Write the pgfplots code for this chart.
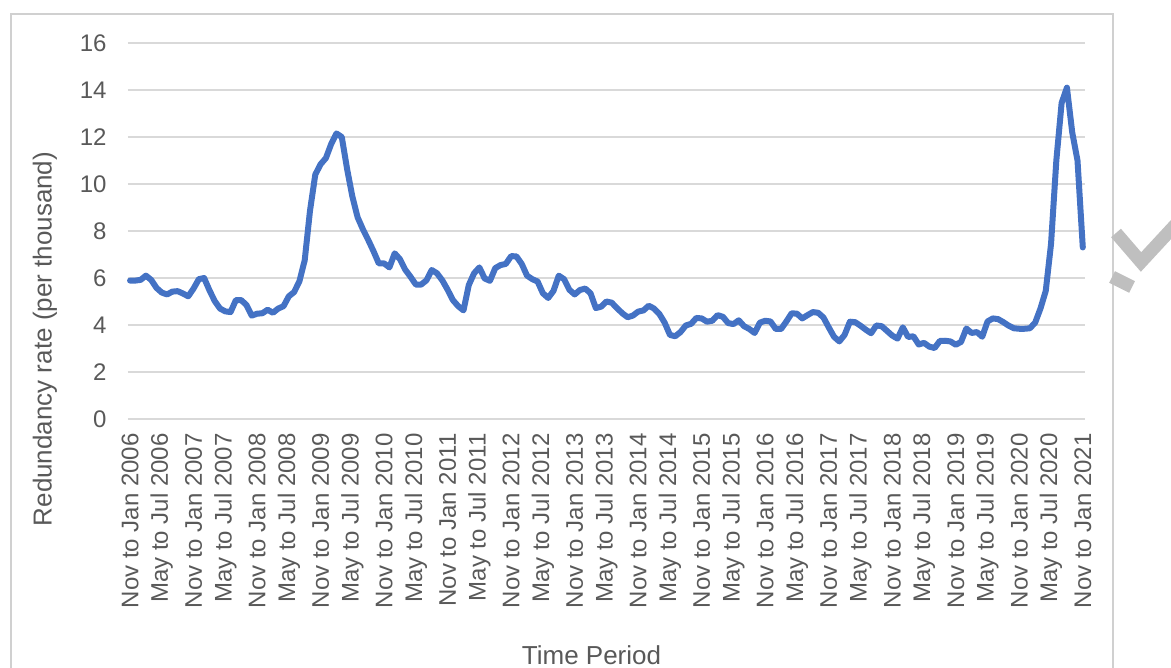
\documentclass[border=0pt]{standalone}
\usepackage{pgfplots}
\pgfplotsset{compat=1.18}
\usepackage{fontspec}
\setmainfont{Liberation Sans}
\definecolor{txt}{HTML}{595959}
\definecolor{gridc}{HTML}{D9D9D9}
\definecolor{linec}{HTML}{4472C4}
\definecolor{wm}{HTML}{BFBFBF}
\begin{document}
\begin{tikzpicture}[x=0.5pt,y=0.5pt]
\useasboundingbox (0,0) rectangle (1171,668);
\draw[gridc!90!gray, line width=1pt] (11,668-14) rectangle (1113,-40);
\draw[wm, line width=6.5pt, line join=miter] (1116,668-233) -- (1141,668-262) -- (1178,668-222);
\draw[wm, line width=6.5pt] (1112,668-277) -- (1132,668-287);
\begin{axis}[
  at={(63.95pt,124.5pt)}, anchor=south west,
  scale only axis, width=478.5pt, height=188pt,
  xmin=-0.4, xmax=180.4, ymin=0, ymax=16,
  ytick={0,2,...,16},
  xtick={0,6,...,180},
  xticklabels={Nov to Jan 2006,May to Jul 2006,Nov to Jan 2007,May to Jul 2007,Nov to Jan 2008,May to Jul 2008,Nov to Jan 2009,May to Jul 2009,Nov to Jan 2010,May to Jul 2010,Nov to Jan 2011,May to Jul 2011,Nov to Jan 2012,May to Jul 2012,Nov to Jan 2013,May to Jul 2013,Nov to Jan 2014,May to Jul 2014,Nov to Jan 2015,May to Jul 2015,Nov to Jan 2016,May to Jul 2016,Nov to Jan 2017,May to Jul 2017,Nov to Jan 2018,May to Jul 2018,Nov to Jan 2019,May to Jul 2019,Nov to Jan 2020,May to Jul 2020,Nov to Jan 2021},
  axis line style={draw=none},
  major tick length=0pt,
  xmajorgrids=false, ymajorgrids=true,
  major grid style={draw=gridc, line width=1pt},
  /pgf/number format/assume math mode=true,
  tick label style={font=\fontsize{12pt}{14pt}\selectfont, text=txt},
  yticklabel style={inner sep=0pt, xshift=-10.5pt},
  xticklabel style={inner sep=0pt, yshift=-7pt, rotate=90, anchor=east},
  clip=false,
]
\addplot[linec, line width=3pt, line join=round, line cap=round, mark=none] coordinates {
(0,5.89)(1,5.89)(2,5.92)(3,6.1)(4,5.92)(5,5.58)(6,5.38)(7,5.3)(8,5.42)(9,5.44)
(10,5.34)(11,5.22)(12,5.55)(13,5.95)(14,6.0)(15,5.48)(16,5.02)(17,4.7)(18,4.58)(19,4.55)
(20,5.06)(21,5.06)(22,4.85)(23,4.4)(24,4.48)(25,4.5)(26,4.65)(27,4.52)(28,4.7)(29,4.8)
(30,5.22)(31,5.4)(32,5.86)(33,6.75)(34,8.86)(35,10.4)(36,10.84)(37,11.1)(38,11.7)(39,12.15)
(40,12.0)(41,10.65)(42,9.47)(43,8.58)(44,8.07)(45,7.62)(46,7.14)(47,6.62)(48,6.62)(49,6.45)
(50,7.05)(51,6.8)(52,6.35)(53,6.05)(54,5.72)(55,5.72)(56,5.9)(57,6.34)(58,6.2)(59,5.9)
(60,5.5)(61,5.06)(62,4.8)(63,4.62)(64,5.7)(65,6.2)(66,6.45)(67,5.98)(68,5.88)(69,6.42)
(70,6.55)(71,6.6)(72,6.93)(73,6.92)(74,6.6)(75,6.1)(76,5.95)(77,5.85)(78,5.35)(79,5.15)
(80,5.45)(81,6.1)(82,5.95)(83,5.5)(84,5.3)(85,5.49)(86,5.55)(87,5.35)(88,4.72)(89,4.78)
(90,5.0)(91,4.95)(92,4.72)(93,4.5)(94,4.33)(95,4.4)(96,4.57)(97,4.62)(98,4.82)(99,4.7)
(100,4.47)(101,4.1)(102,3.58)(103,3.52)(104,3.7)(105,3.98)(106,4.05)(107,4.3)(108,4.28)(109,4.14)
(110,4.18)(111,4.42)(112,4.35)(113,4.08)(114,4.04)(115,4.2)(116,3.95)(117,3.83)(118,3.66)(119,4.1)
(120,4.18)(121,4.15)(122,3.83)(123,3.83)(124,4.15)(125,4.5)(126,4.48)(127,4.28)(128,4.42)(129,4.55)
(130,4.52)(131,4.32)(132,3.9)(133,3.5)(134,3.3)(135,3.58)(136,4.14)(137,4.12)(138,3.97)(139,3.8)
(140,3.65)(141,3.98)(142,3.95)(143,3.75)(144,3.55)(145,3.42)(146,3.9)(147,3.49)(148,3.52)(149,3.17)
(150,3.24)(151,3.08)(152,3.02)(153,3.32)(154,3.33)(155,3.3)(156,3.16)(157,3.28)(158,3.85)(159,3.66)
(160,3.7)(161,3.5)(162,4.15)(163,4.28)(164,4.25)(165,4.12)(166,3.97)(167,3.86)(168,3.84)(169,3.84)
(170,3.86)(171,4.1)(172,4.7)(173,5.45)(174,7.45)(175,11.0)(176,13.45)(177,14.1)(178,12.2)(179,11.0)
(180,7.3)
};
\end{axis}
\node[rotate=90, text=txt, font=\fontsize{13pt}{15pt}\selectfont] at (45,668-339) {Redundancy rate (per thousand)};
\node[anchor=base, text=txt, font=\fontsize{13pt}{15pt}\selectfont] at (591.5,668-665) {Time Period};
\end{tikzpicture}
\end{document}
